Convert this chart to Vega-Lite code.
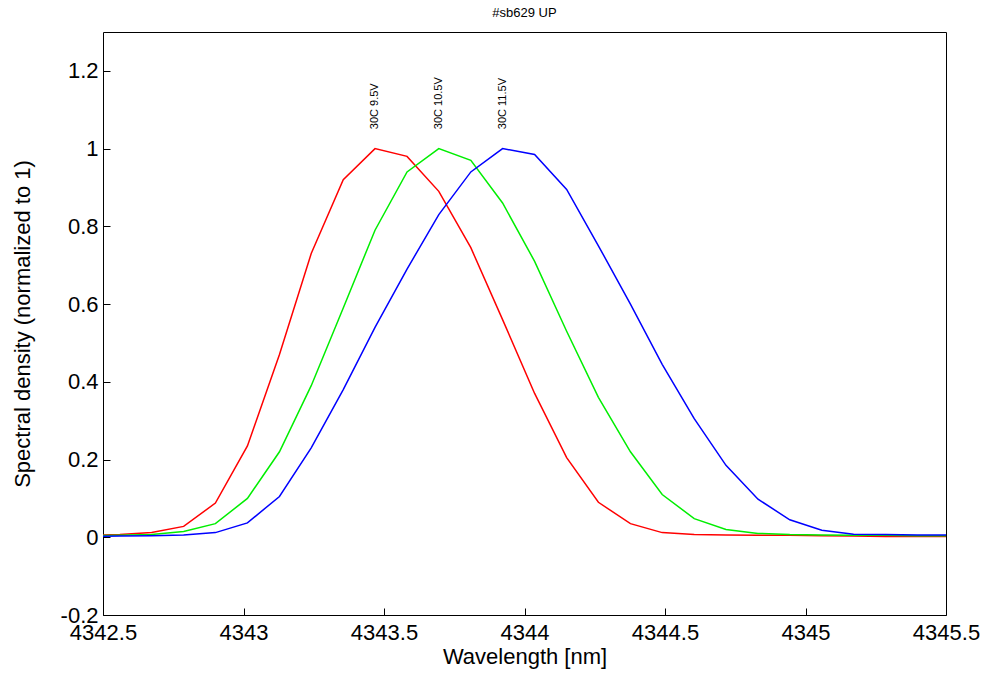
{
  "$schema": "https://vega.github.io/schema/vega-lite/v6.json",
  "width": 843,
  "height": 583,
  "autosize": "none",
  "padding": {"left": 103, "top": 32, "right": 53, "bottom": 64},
  "title": {"text": "#sb629 UP", "fontSize": 13, "font": "Liberation Sans", "fontWeight": "normal", "offset": 12},
  "datasets": {
    "labels": [
      {"x": 4343.468, "y": 1.05, "label": "30C 9.5V"},
      {"x": 4343.695, "y": 1.05, "label": "30C 10.5V"},
      {"x": 4343.922, "y": 1.05, "label": "30C 11.5V"}
    ]
  },
  "data": {
    "values": [
      {"x": 4342.446, "y": 0.005, "s": "a"},
      {"x": 4342.560, "y": 0.007, "s": "a"},
      {"x": 4342.673, "y": 0.012, "s": "a"},
      {"x": 4342.787, "y": 0.028, "s": "a"},
      {"x": 4342.900, "y": 0.088, "s": "a"},
      {"x": 4343.014, "y": 0.235, "s": "a"},
      {"x": 4343.128, "y": 0.47, "s": "a"},
      {"x": 4343.241, "y": 0.73, "s": "a"},
      {"x": 4343.355, "y": 0.92, "s": "a"},
      {"x": 4343.468, "y": 1.0, "s": "a"},
      {"x": 4343.582, "y": 0.98, "s": "a"},
      {"x": 4343.695, "y": 0.89, "s": "a"},
      {"x": 4343.809, "y": 0.745, "s": "a"},
      {"x": 4343.922, "y": 0.56, "s": "a"},
      {"x": 4344.036, "y": 0.37, "s": "a"},
      {"x": 4344.150, "y": 0.205, "s": "a"},
      {"x": 4344.263, "y": 0.09, "s": "a"},
      {"x": 4344.377, "y": 0.035, "s": "a"},
      {"x": 4344.490, "y": 0.012, "s": "a"},
      {"x": 4344.604, "y": 0.007, "s": "a"},
      {"x": 4344.717, "y": 0.006, "s": "a"},
      {"x": 4344.831, "y": 0.005, "s": "a"},
      {"x": 4344.944, "y": 0.005, "s": "a"},
      {"x": 4345.058, "y": 0.004, "s": "a"},
      {"x": 4345.171, "y": 0.003, "s": "a"},
      {"x": 4345.285, "y": 0.002, "s": "a"},
      {"x": 4345.398, "y": 0.002, "s": "a"},
      {"x": 4345.512, "y": 0.002, "s": "a"},
      {"x": 4342.446, "y": 0.004, "s": "b"},
      {"x": 4342.560, "y": 0.005, "s": "b"},
      {"x": 4342.673, "y": 0.007, "s": "b"},
      {"x": 4342.787, "y": 0.015, "s": "b"},
      {"x": 4342.900, "y": 0.035, "s": "b"},
      {"x": 4343.014, "y": 0.1, "s": "b"},
      {"x": 4343.128, "y": 0.22, "s": "b"},
      {"x": 4343.241, "y": 0.39, "s": "b"},
      {"x": 4343.355, "y": 0.59, "s": "b"},
      {"x": 4343.468, "y": 0.79, "s": "b"},
      {"x": 4343.582, "y": 0.94, "s": "b"},
      {"x": 4343.695, "y": 1.0, "s": "b"},
      {"x": 4343.809, "y": 0.97, "s": "b"},
      {"x": 4343.922, "y": 0.86, "s": "b"},
      {"x": 4344.036, "y": 0.71, "s": "b"},
      {"x": 4344.150, "y": 0.53, "s": "b"},
      {"x": 4344.263, "y": 0.36, "s": "b"},
      {"x": 4344.377, "y": 0.22, "s": "b"},
      {"x": 4344.490, "y": 0.11, "s": "b"},
      {"x": 4344.604, "y": 0.048, "s": "b"},
      {"x": 4344.717, "y": 0.02, "s": "b"},
      {"x": 4344.831, "y": 0.01, "s": "b"},
      {"x": 4344.944, "y": 0.007, "s": "b"},
      {"x": 4345.058, "y": 0.006, "s": "b"},
      {"x": 4345.171, "y": 0.005, "s": "b"},
      {"x": 4345.285, "y": 0.005, "s": "b"},
      {"x": 4345.398, "y": 0.004, "s": "b"},
      {"x": 4345.512, "y": 0.004, "s": "b"},
      {"x": 4342.446, "y": 0.002, "s": "c"},
      {"x": 4342.560, "y": 0.003, "s": "c"},
      {"x": 4342.673, "y": 0.004, "s": "c"},
      {"x": 4342.787, "y": 0.006, "s": "c"},
      {"x": 4342.900, "y": 0.012, "s": "c"},
      {"x": 4343.014, "y": 0.037, "s": "c"},
      {"x": 4343.128, "y": 0.105, "s": "c"},
      {"x": 4343.241, "y": 0.23, "s": "c"},
      {"x": 4343.355, "y": 0.38, "s": "c"},
      {"x": 4343.468, "y": 0.54, "s": "c"},
      {"x": 4343.582, "y": 0.69, "s": "c"},
      {"x": 4343.695, "y": 0.83, "s": "c"},
      {"x": 4343.809, "y": 0.94, "s": "c"},
      {"x": 4343.922, "y": 1.0, "s": "c"},
      {"x": 4344.036, "y": 0.985, "s": "c"},
      {"x": 4344.150, "y": 0.895, "s": "c"},
      {"x": 4344.263, "y": 0.75, "s": "c"},
      {"x": 4344.377, "y": 0.6, "s": "c"},
      {"x": 4344.490, "y": 0.445, "s": "c"},
      {"x": 4344.604, "y": 0.305, "s": "c"},
      {"x": 4344.717, "y": 0.185, "s": "c"},
      {"x": 4344.831, "y": 0.098, "s": "c"},
      {"x": 4344.944, "y": 0.045, "s": "c"},
      {"x": 4345.058, "y": 0.018, "s": "c"},
      {"x": 4345.171, "y": 0.008, "s": "c"},
      {"x": 4345.285, "y": 0.007, "s": "c"},
      {"x": 4345.398, "y": 0.006, "s": "c"},
      {"x": 4345.512, "y": 0.006, "s": "c"}
    ]
  },
  "layer": [
    {
      "mark": {"type": "line", "clip": true, "strokeWidth": 1.5},
      "encoding": {
        "x": {
          "field": "x", "type": "quantitative",
          "scale": {"domain": [4342.5, 4345.5], "nice": false, "zero": false},
          "axis": {"values": [4342.5, 4343, 4343.5, 4344, 4344.5, 4345, 4345.5], "labelExpr": "format(datum.value, '.1~f')", "title": "Wavelength [nm]", "grid": false}
        },
        "y": {
          "field": "y", "type": "quantitative",
          "scale": {"domain": [-0.2, 1.3], "nice": false},
          "axis": {"values": [-0.2, 0, 0.2, 0.4, 0.6, 0.8, 1, 1.2], "labelExpr": "replace(format(datum.value, '.1~f'), '\u2212', '-')", "title": "Spectral density (normalized to 1)", "grid": false}
        },
        "color": {
          "field": "s", "type": "nominal",
          "scale": {"domain": ["a", "b", "c"], "range": ["#ff0000", "#00ee00", "#0000ff"]},
          "legend": null
        }
      }
    },
    {
      "data": {"name": "labels"},
      "mark": {"type": "text", "angle": 270, "align": "left", "baseline": "middle", "fontSize": 11, "font": "Liberation Sans"},
      "encoding": {
        "x": {"field": "x", "type": "quantitative"},
        "y": {"field": "y", "type": "quantitative"},
        "text": {"field": "label"}
      }
    }
  ],
  "config": {
    "view": {"stroke": "black", "strokeWidth": 1},
    "axis": {
      "labelFont": "Liberation Sans", "titleFont": "Liberation Sans",
      "labelFontSize": 22, "titleFontSize": 22, "titleFontWeight": "normal",
      "labelColor": "black", "titleColor": "black",
      "labelBound": false, "labelFlush": false, "labelOverlap": false,
      "domain": false, "tickColor": "black", "tickSize": -7, "labelPadding": 12
    },
    "axisX": {"titlePadding": 3, "labelPadding": 14},
    "axisY": {"titlePadding": 26}
  }
}
